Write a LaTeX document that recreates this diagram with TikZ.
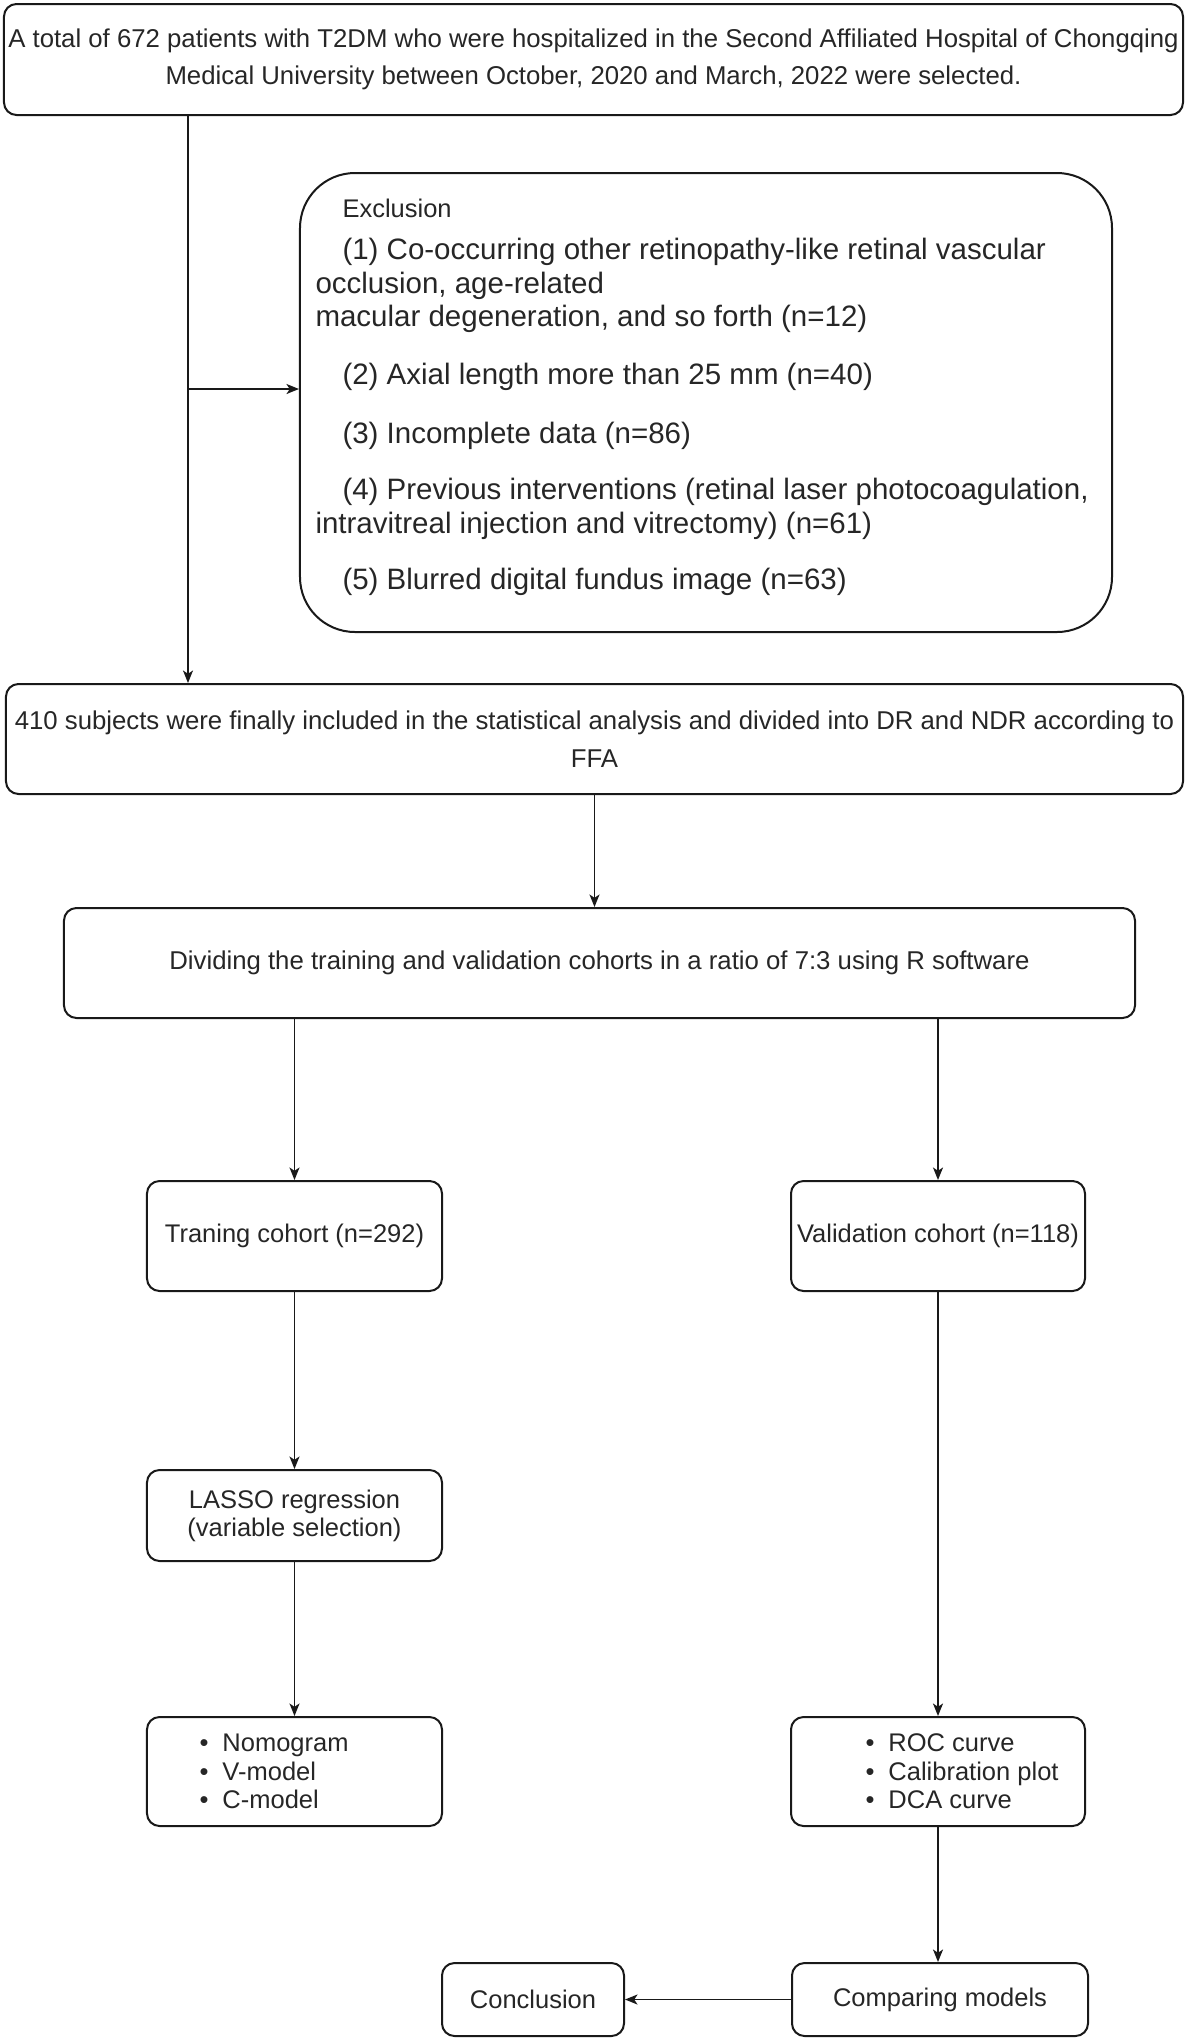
\documentclass[tikz,border=0pt]{standalone}
\usepackage{fontspec}
\setmainfont{Liberation Sans}
\usetikzlibrary{arrows.meta}
\newcommand\blt{\makebox[9.2pt][l]{•}}
\begin{document}
\begin{tikzpicture}[x=0.4pt,y=-0.4pt,
  box/.style={draw=black!90, line width=0.8pt, rounded corners=5pt, inner sep=0pt, align=center, text=black!85, font=\fontsize{10.2}{12.2}\selectfont},
  arr/.style={draw=black!90, line width=0.65pt, -{Stealth[length=5pt,width=4pt,inset=1.3pt]}},
  exline/.style={text=black!85, inner sep=0pt, anchor=base west, font=\fontsize{11.8}{13.4}\selectfont},
  blist/.style={text=black!85, inner sep=0pt, anchor=west, align=left, font=\fontsize{10.2}{11.4}\selectfont}]
\useasboundingbox (0,0) rectangle (1187,2042);

\node[box, minimum width=471.6pt, minimum height=44.4pt, font=\fontsize{10.3}{15}\selectfont] (top) at (593.5,59.5)
  {A total of 672 patients with T2DM who were hospitalized in the Second Affiliated Hospital of Chongqing\\Medical University between October, 2020 and March, 2022 were selected.};

\node[box, minimum width=324.8pt, minimum height=183.6pt, rounded corners=22pt] (excl) at (706,402.5) {};
\node[exline, font=\fontsize{10.2}{12}\selectfont] (ex0) at (342,217) {Exclusion};
\node[exline] (ex1) at (342,259) {(1) Co-occurring other retinopathy-like retinal vascular};
\node[exline] (ex1b) at (315,293) {occlusion, age-related};
\node[exline] (ex1c) at (315,326) {macular degeneration, and so forth (n=12)};
\node[exline] (ex2) at (342,384) {(2) Axial length more than 25 mm (n=40)};
\node[exline] (ex3) at (342,443) {(3) Incomplete data (n=86)};
\node[exline] (ex4) at (342,499) {(4) Previous interventions (retinal laser photocoagulation,};
\node[exline] (ex4b) at (315,533) {intravitreal injection and vitrectomy) (n=61)};
\node[exline] (ex5) at (342,589) {(5) Blurred digital fundus image (n=63)};

\node[box, minimum width=470.8pt, minimum height=44pt, font=\fontsize{10.3}{15.2}\selectfont] (inc) at (594.5,739)
  {410 subjects were finally included in the statistical analysis and divided into DR and NDR according to\\FFA};

\node[box, minimum width=428.4pt, minimum height=44pt, font=\fontsize{10.3}{12}\selectfont] (div) at (599.5,963)
  {Dividing the training and validation cohorts in a ratio of 7:3 using R software};

\node[box, minimum width=118pt, minimum height=44pt] (trn) at (294.5,1236) {Traning cohort (n=292)};
\node[box, minimum width=117.6pt, minimum height=44pt] (val) at (938,1236) {Validation cohort (n=118)};
\node[box, minimum width=118pt, minimum height=36.4pt, font=\fontsize{10.2}{11.2}\selectfont] (las) at (294.5,1515.5) {LASSO regression\\(variable selection)};
\node[box, minimum width=118pt, minimum height=43.6pt] (nom) at (294.5,1771.5) {};
\node[box, minimum width=117.6pt, minimum height=43.6pt] (roc) at (938,1771.5) {};
\node[blist] (noml) at (199,1771.5) {\blt Nomogram\\\blt V-model\\\blt C-model};
\node[blist] (rocl) at (865,1771.5) {\blt ROC curve\\\blt Calibration plot\\\blt DCA curve};
\node[box, minimum width=118.4pt, minimum height=29.2pt] (cmp) at (940,1999.5) {Comparing models};
\node[box, minimum width=72.8pt, minimum height=29.2pt] (con) at (533,1999.5) {Conclusion};

\coordinate (j) at (188,389);
\draw[arr] (top.south -| j) -- (inc.north -| j);
\draw[arr] (j) -- (j -| excl.west);
\draw[arr] (inc.south) -- (inc.south |- div.north);
\draw[arr] (div.south -| trn.north) -- (trn.north);
\draw[arr] (div.south -| val.north) -- (val.north);
\draw[arr] (trn.south) -- (las.north);
\draw[arr] (las.south) -- (nom.north);
\draw[arr] (val.south) -- (roc.north);
\draw[arr] (roc.south) -- (roc.south |- cmp.north);
\draw[arr] (cmp.west) -- (con.east);
\end{tikzpicture}
\end{document}
